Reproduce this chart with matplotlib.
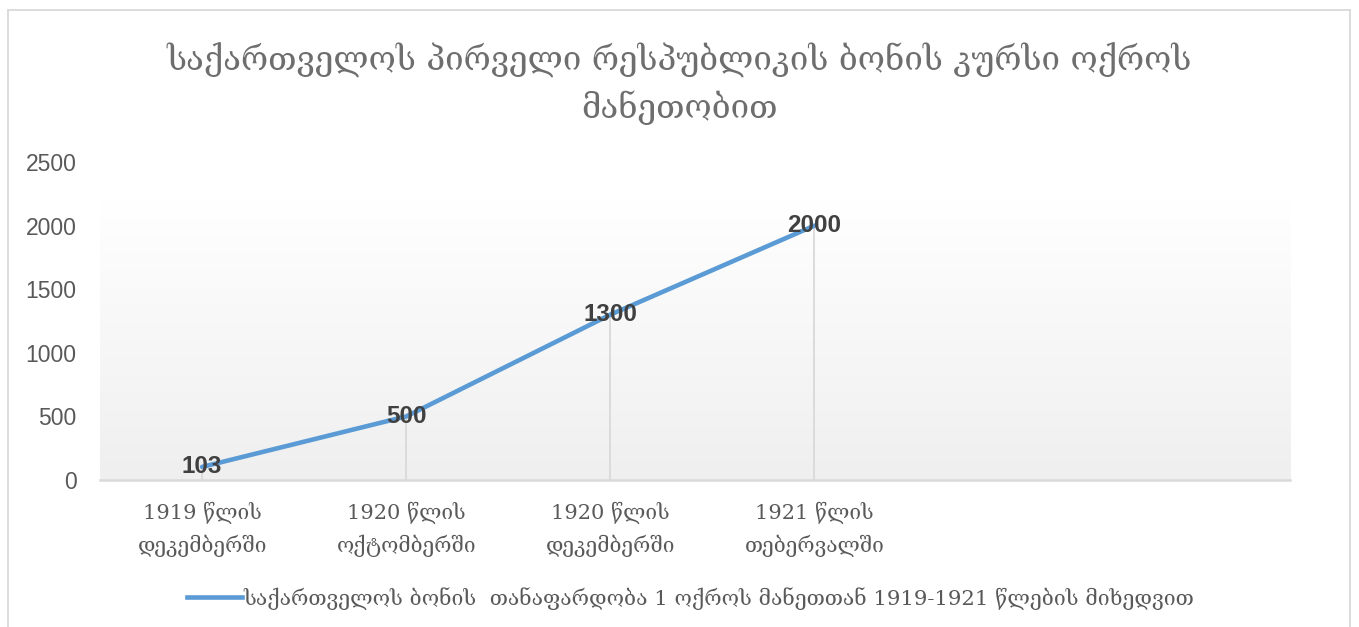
import numpy as np
import matplotlib
matplotlib.use('Agg')
import matplotlib.pyplot as plt
from matplotlib.lines import Line2D
from matplotlib.colors import LinearSegmentedColormap

# ─── Data ─────────────────────────────────────────────────────────────
categories = [
    '1919 წლის\nდეკემბერში',
    '1920 წლის\nოქტომბერში',
    '1920 წლის\nდეკემბერში',
    '1921 წლის\nთებერვალში',
]
rates = [103, 500, 1300, 2000]
y_ticks = [0, 500, 1000, 1500, 2000, 2500]

title = 'საქართველოს პირველი რესპუბლიკის ბონის კურსი ოქროს\nმანეთობით'
series_name = 'საქართველოს ბონის  თანაფარდობა 1 ოქროს მანეთთან 1919-1921 წლების მიხედვით'

# ─── Styles ───────────────────────────────────────────────────────────
GEO_FONT = ['DejaVu Serif', 'DejaVu Sans']
NUM_FONT = ['Liberation Sans', 'DejaVu Sans']
LINE_BLUE = '#5B9BD5'
TEXT_GRAY = '#595959'
GRID_GRAY = '#d9d9d9'

fig = plt.figure(figsize=(13.59, 6.27), dpi=100, facecolor='white')
ax = fig.add_axes([0.0736, 0.2344, 0.8757, 0.5072])

x = np.arange(len(rates))

# gradient plot-area fill (white at top -> light gray at bottom)
cmap = LinearSegmentedColormap.from_list('bg', ['#ffffff', '#efefef'])
grad = np.linspace(0, 1, 256).reshape(-1, 1)
ax.imshow(grad, cmap=cmap, aspect='auto', extent=[-0.5, 5.33, 0, 2200],
          origin='upper', zorder=0)

# drop lines
ax.vlines(x, 0, rates, colors=GRID_GRAY, linewidth=1.3, zorder=1)

ax.plot(x, rates, color=LINE_BLUE, linewidth=3.3, solid_capstyle='round',
        zorder=3, label=series_name)

for xi, v in zip(x, rates):
    ax.text(xi, v, str(v), ha='center', va='center', fontsize=17.5,
            fontweight='bold', color='#404040', family=NUM_FONT, zorder=4)

ax.set_xlim(-0.5, 5.33)
ax.set_ylim(0, 2500)
ax.set_yticks(y_ticks)
ax.set_yticklabels([str(t) for t in y_ticks], family=NUM_FONT,
                   fontsize=16.5, color=TEXT_GRAY)
ax.set_xticks(x)
ax.set_xticklabels(categories, family=GEO_FONT, fontsize=15,
                   color=TEXT_GRAY, linespacing=1.6)
ax.tick_params(axis='both', length=0)
ax.tick_params(axis='y', pad=17)
ax.tick_params(axis='x', pad=16)

for side in ['left', 'right', 'top']:
    ax.spines[side].set_visible(False)
ax.spines['bottom'].set_color(GRID_GRAY)
ax.spines['bottom'].set_linewidth(1.8)

# ─── Title ────────────────────────────────────────────────────────────
fig.text(0.5, 0.866, title, ha='center', va='center', family=GEO_FONT,
         fontsize=23.8, color='#6e6e6e', linespacing=1.45)

# ─── Legend ───────────────────────────────────────────────────────────
leg = fig.legend(handles=[Line2D([], [], color=LINE_BLUE, linewidth=3.3)],
                 labels=[series_name], loc='center', bbox_to_anchor=(0.508, 0.046),
                 frameon=False, handlelength=2.6, handletextpad=0.05,
                 prop={'family': GEO_FONT, 'size': 15.2})
for t in leg.get_texts():
    t.set_color(TEXT_GRAY)

# ─── Chart border ─────────────────────────────────────────────────────
W, H = 1359, 627
for xs, ys in [([8, 8], [0, 617]), ([8, 1350], [617, 617]), ([1350, 1350], [617, 0])]:
    fig.add_artist(Line2D([v / W for v in xs], [v / H for v in ys],
                          color=GRID_GRAY, linewidth=1.3))

fig.savefig('out.png', dpi=100, facecolor='white')
